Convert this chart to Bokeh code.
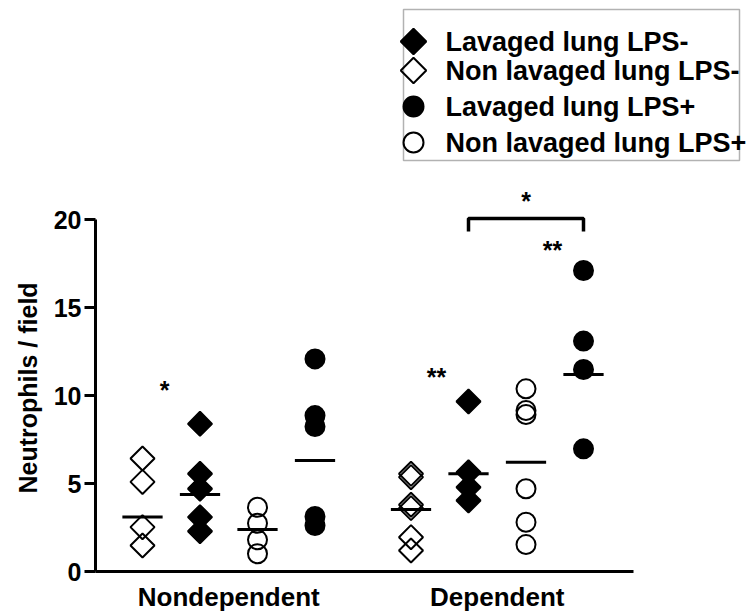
import numpy as np
from bokeh.plotting import figure
from bokeh.models import Range1d, FixedTicker, Label, BoxAnnotation, Title
from bokeh.embed import file_html
from bokeh.resources import INLINE

# ---------------- data ----------------
groups = ["Nondependent", "Dependent"]
series = ["Non lavaged lung LPS-", "Lavaged lung LPS-",
          "Non lavaged lung LPS+", "Lavaged lung LPS+"]
legend_order = ["Lavaged lung LPS-", "Non lavaged lung LPS-",
                "Lavaged lung LPS+", "Non lavaged lung LPS+"]

nd_nonlav_minus = [6.42, 5.09, 2.52, 1.48]
nd_lav_minus = [8.39, 5.55, 4.70, 3.09, 2.29]
nd_nonlav_plus = [3.65, 2.74, 1.80, 1.01]
nd_lav_plus = [12.08, 8.86, 8.24, 3.13, 2.61]

d_nonlav_minus = [5.55, 5.36, 3.79, 3.60, 1.95, 1.19]
d_lav_minus = [9.66, 5.64, 4.79, 4.03]
d_nonlav_plus = [10.38, 9.15, 8.92, 4.70, 2.80, 1.53]
d_lav_plus = [17.10, 13.09, 11.48, 6.97]

nd_means = [3.10, 4.37, 2.39, 6.31]
d_means = [3.52, 5.55, 6.21, 11.20]

y_ticks = [0, 5, 10, 15, 20]
y_label = "Neutrophils / field"

# ---------------- layout helpers ----------------
W, H = 747, 616
FRAME_L, FRAME_B = 95, 571
PX_X, PX_Y = 57.5, 17.6
X0_PX = 84.5


def dx(sx):
    return (sx - X0_PX) / PX_X


def dy(sy):
    return (FRAME_B - sy) / PX_Y


FONT = "Liberation Sans"

p = figure(width=W, height=H, output_backend="svg", toolbar_location=None,
           x_range=Range1d(dx(FRAME_L), dx(W)), y_range=Range1d(0, dy(0)),
           min_border_left=FRAME_L, min_border_bottom=H - FRAME_B,
           min_border_top=0, min_border_right=0)
p.outline_line_color = None
p.grid.visible = False
p.background_fill_color = "white"
p.border_fill_color = "white"

# axes
p.yaxis.ticker = FixedTicker(ticks=y_ticks)
p.yaxis.bounds = (0, 20)
p.yaxis.axis_line_width = 3
p.yaxis.major_tick_line_width = 3
p.yaxis.major_tick_out = 11
p.yaxis.major_tick_in = 0
p.yaxis.minor_tick_line_color = None
p.yaxis.major_label_text_font = FONT
p.yaxis.major_label_text_font_style = "bold"
p.yaxis.major_label_text_font_size = "25px"
p.yaxis.major_label_text_color = "black"
p.yaxis.major_label_standoff = 3

group_start = [1.0, 1.0 + 3 + 96 / PX_X]
group_centers = [g + 1.5 for g in group_start]

p.xaxis.ticker = FixedTicker(ticks=group_centers)
p.xaxis.major_label_overrides = {group_centers[i]: groups[i] for i in range(2)}
p.xaxis.bounds = (dx(FRAME_L), dx(633))
p.xaxis.axis_line_width = 3
p.xaxis.major_tick_line_color = None
p.xaxis.minor_tick_line_color = None
p.xaxis.major_label_text_font = FONT
p.xaxis.major_label_text_font_style = "bold"
p.xaxis.major_label_text_font_size = "26px"
p.xaxis.major_label_text_color = "black"
p.xaxis.major_label_standoff = 4

# y axis title, placed along the 0-20 span of the axis
p.add_layout(Title(text=y_label, align="left", offset=FRAME_B - 493,
                   text_font=FONT, text_font_style="bold", text_font_size="25px",
                   text_color="black", standoff=18), "left")

styles = {
    "Non lavaged lung LPS-": dict(marker="square", angle=np.pi / 4, size=17, fill_color=None),
    "Lavaged lung LPS-": dict(marker="square", angle=np.pi / 4, size=17, fill_color="black"),
    "Non lavaged lung LPS+": dict(marker="circle", angle=0, size=19, fill_color=None),
    "Lavaged lung LPS+": dict(marker="circle", angle=0, size=19, fill_color="black"),
}

data = [
    [nd_nonlav_minus, nd_lav_minus, nd_nonlav_plus, nd_lav_plus],
    [d_nonlav_minus, d_lav_minus, d_nonlav_plus, d_lav_plus],
]
means = [nd_means, d_means]

for g in range(2):
    for s, name in enumerate(series):
        vals = data[g][s]
        xpos = group_start[g] + s
        st = styles[name]
        p.scatter(x=[xpos] * len(vals), y=vals, marker=st["marker"], angle=st["angle"],
                  size=st["size"], fill_color=st["fill_color"], line_color="black",
                  line_width=2)
        p.segment(x0=[xpos - 0.35], x1=[xpos + 0.35], y0=[means[g][s]], y1=[means[g][s]],
                  line_color="black", line_width=3)

# significance marks
star_font = "25px"


def star(x, y, txt):
    p.add_layout(Label(x=x, y=y, text=txt, text_font=FONT, text_font_style="bold",
                       text_font_size=star_font, text_color="black",
                       text_align="center", text_baseline="middle"))


star(dx(164), dy(389), "*")
star(dx(436), dy(376), "**")
bx0 = group_start[1] + 1
bx1 = group_start[1] + 3
by_top = dy(218)
by_bot = dy(231)
p.line(x=[bx0, bx0, bx1, bx1], y=[by_bot, by_top, by_top, by_bot], line_color="black",
       line_width=3.5)
star((bx0 + bx1) / 2, dy(200), "*")
star(dx(552), dy(249), "**")

# legend (manual)
p.add_layout(BoxAnnotation(left=dx(403), right=dx(739), top=dy(9), bottom=dy(160),
                           fill_alpha=0, line_color="black", line_width=1.5))
row_y = [41, 70, 106, 142]
for i, name in enumerate(legend_order):
    st = styles[name]
    p.scatter(x=[dx(413)], y=[dy(row_y[i])], marker=st["marker"], angle=st["angle"],
              size=st["size"] + 1, fill_color=st["fill_color"] if st["fill_color"] else "white",
              line_color="black", line_width=2)
    p.add_layout(Label(x=dx(445), y=dy(row_y[i]), text=name, text_font=FONT,
                       text_font_style="bold", text_font_size="27px", text_color="black",
                       text_align="left", text_baseline="middle"))

open("out.html", "w").write(file_html(p, INLINE))
